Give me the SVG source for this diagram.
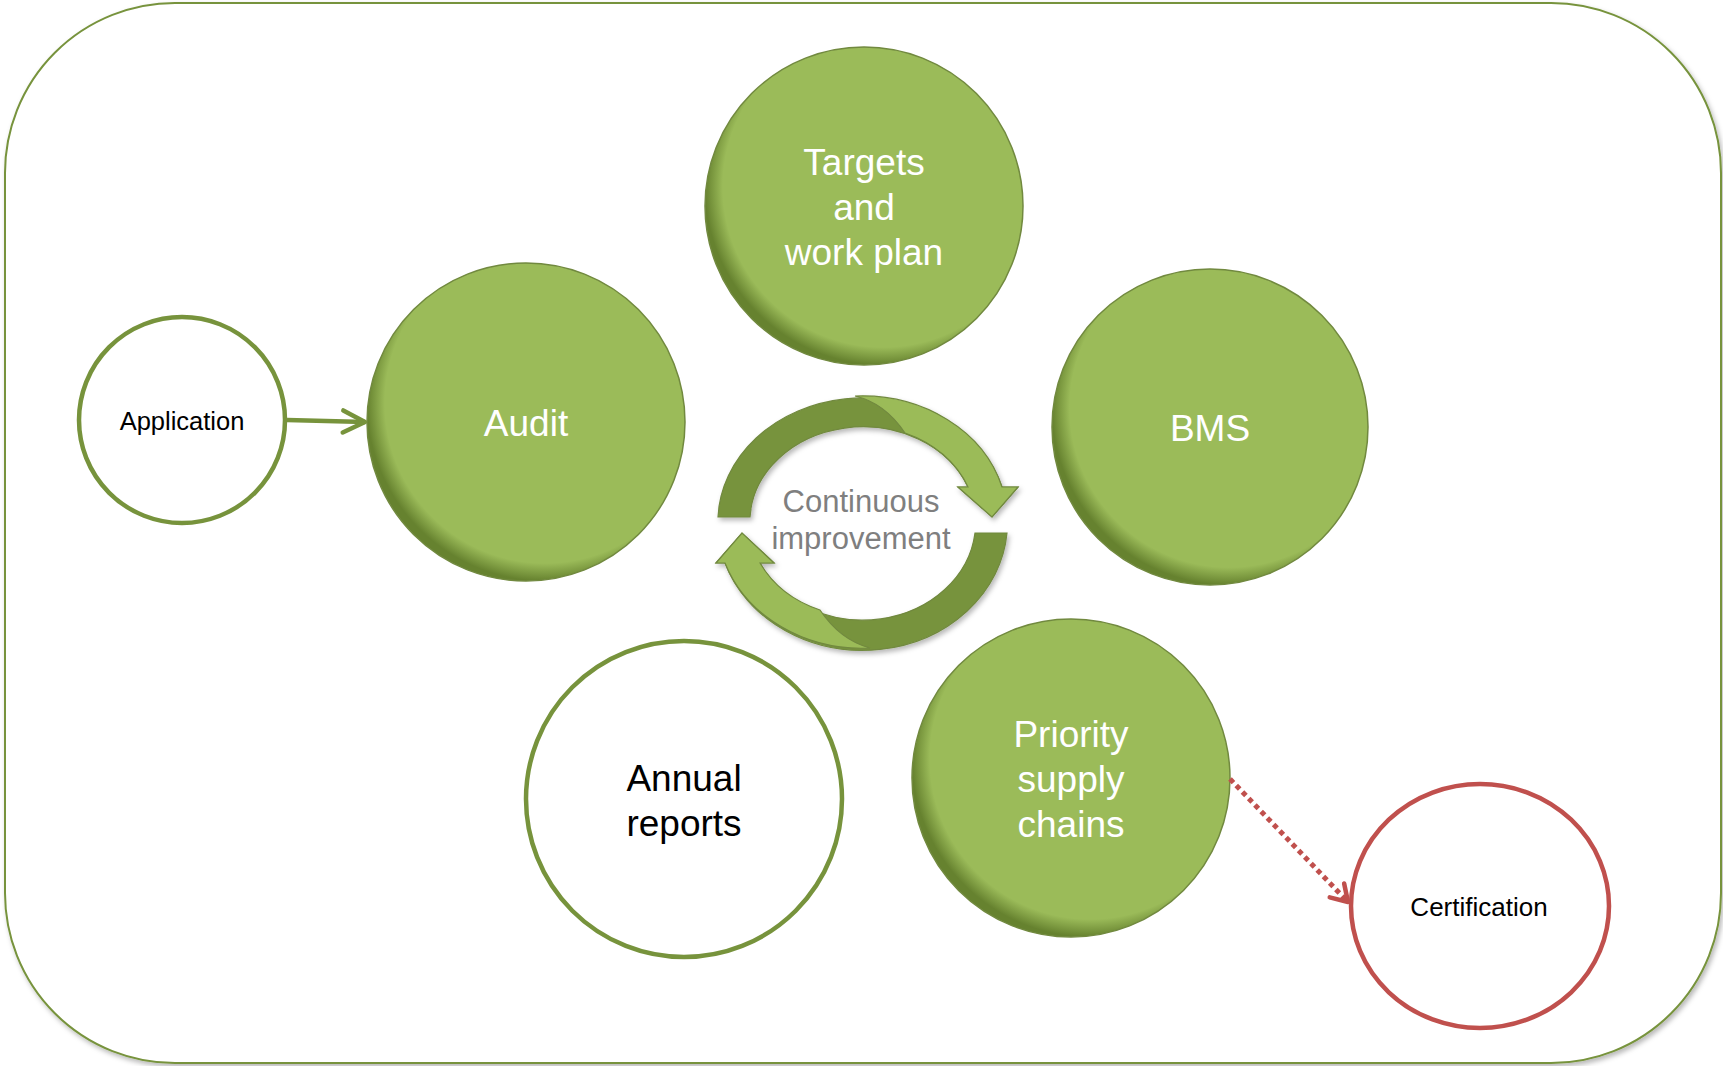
<svg xmlns="http://www.w3.org/2000/svg" width="1723" height="1066" viewBox="0 0 1723 1066">
<style>
.green{fill:url(#gfill);stroke:#71893F;stroke-width:1.5}
.wt{font-family:"Liberation Sans",Arial,sans-serif;font-size:37px;fill:#FFFFFF;text-anchor:middle}
.bt{font-family:"Liberation Sans",Arial,sans-serif;fill:#000000;text-anchor:middle}
.ring{stroke:#71893F;stroke-width:1.2}
</style>
<defs>
<radialGradient id="gfill" cx="0.56" cy="0.44" r="0.56">
<stop offset="0" stop-color="#9BBB59"/>
<stop offset="0.9" stop-color="#9BBB59"/>
<stop offset="1" stop-color="#66822F"/>
</radialGradient>
<filter id="sh" x="-10%" y="-10%" width="120%" height="120%">
<feDropShadow dx="2" dy="3" stdDeviation="2.5" flood-color="#000" flood-opacity="0.28"/>
</filter>
<marker id="mg" markerUnits="userSpaceOnUse" markerWidth="30" markerHeight="30" viewBox="-26 -15 30 30" refX="0" refY="0" orient="auto">
<path d="M-22,-11 L0,0 L-22,11" fill="none" stroke="#77933C" stroke-width="4.5" stroke-linecap="round" stroke-linejoin="round"/>
</marker>
<marker id="mr" markerUnits="userSpaceOnUse" markerWidth="30" markerHeight="30" viewBox="-26 -15 30 30" refX="0" refY="0" orient="auto">
<path d="M-16,-10 L0,0 L-16,10" fill="none" stroke="#C0504D" stroke-width="4.5" stroke-linecap="round" stroke-linejoin="round"/>
</marker>
</defs>
<rect width="1723" height="1066" fill="#FFFFFF"/>
<g id="frame">
<rect x="5" y="3" width="1716" height="1060" rx="170" ry="170" fill="#FFFFFF" stroke="#77933C" stroke-width="2" filter="url(#sh)"/>
</g>
<g id="cycle" filter="url(#sh)">
<path class="ring" fill="#77933C" d="M718,517 A145,124 0 0 1 1002,487 L1018,487 L992,517 L958,487 L968,487 A113,95 0 0 0 750,517 Z"/>
<path class="ring" fill="#9BBB59" d="M855,396 A145,124 0 0 1 1002,487 L1018,487 L992,517 L958,487 L968,487 A113,95 0 0 0 905,433 Q885,403 855,396 Z"/>
<path class="ring" fill="#77933C" d="M1007,533 A145,128 0 0 1 725,563 L716,563 L742,533 L774,563 L760,563 A113,98 0 0 0 975,533 Z"/>
<path class="ring" fill="#9BBB59" d="M870,648 A145,128 0 0 1 725,563 L716,563 L742,533 L774,563 L760,563 A113,98 0 0 0 820,610 Q840,640 870,648 Z"/>
</g>
<g id="continuous-improvement">
<text x="861" y="512" font-family="'Liberation Sans',Arial,sans-serif" font-size="31" fill="#7F7F7F" text-anchor="middle">Continuous</text>
<text x="861" y="549" font-family="'Liberation Sans',Arial,sans-serif" font-size="31" fill="#7F7F7F" text-anchor="middle">improvement</text>
</g>
<g id="targets">
<circle class="green" cx="864" cy="206" r="159"/>
<text class="wt" x="864" y="175">Targets</text>
<text class="wt" x="864" y="220">and</text>
<text class="wt" x="864" y="265">work plan</text>
</g>
<g id="audit">
<circle class="green" cx="526" cy="422" r="159"/>
<text class="wt" x="526" y="436">Audit</text>
</g>
<g id="bms">
<circle class="green" cx="1210" cy="427" r="158"/>
<text class="wt" x="1210" y="441">BMS</text>
</g>
<g id="priority">
<circle class="green" cx="1071" cy="778" r="159"/>
<text class="wt" x="1071" y="747">Priority</text>
<text class="wt" x="1071" y="792">supply</text>
<text class="wt" x="1071" y="837">chains</text>
</g>
<g id="annual-reports">
<circle cx="684" cy="799" r="158" fill="#FFFFFF" stroke="#77933C" stroke-width="4.5"/>
<text class="bt" x="684" y="791" font-size="37">Annual</text>
<text class="bt" x="684" y="836" font-size="37">reports</text>
</g>
<g id="application">
<circle cx="182" cy="420" r="103" fill="#FFFFFF" stroke="#77933C" stroke-width="4.5"/>
<text class="bt" x="182" y="430" font-size="25.5">Application</text>
</g>
<g id="certification">
<ellipse cx="1480" cy="906" rx="129" ry="122" fill="#FFFFFF" stroke="#C0504D" stroke-width="4.5"/>
<text class="bt" x="1479" y="916" font-size="26">Certification</text>
</g>
<g id="connectors">
<line x1="287" y1="420" x2="365" y2="422" stroke="#77933C" stroke-width="4.5" marker-end="url(#mg)"/>
<line x1="1230" y1="779" x2="1348" y2="902" stroke="#C0504D" stroke-width="5" stroke-dasharray="5 4" marker-end="url(#mr)"/>
</g>
</svg>
